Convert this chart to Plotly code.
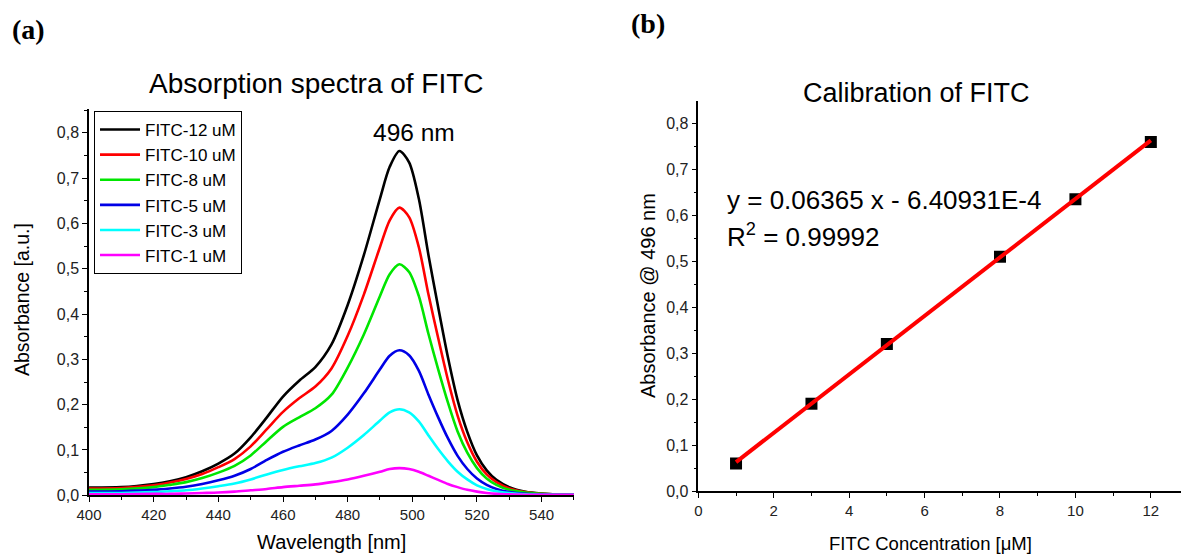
import plotly.graph_objects as go

# Absorption spectra (wavelength in nm, absorbance in a.u.)
wavelength = [400, 410, 420, 425, 430, 435, 440, 445, 450, 455, 460, 465, 470, 475,
              480, 485, 490, 493, 496, 499, 502, 505, 508, 511, 514, 517, 520, 523,
              526, 530, 535, 540, 545, 550]

abs_12uM = [0.017, 0.018, 0.025, 0.031, 0.040, 0.053, 0.070, 0.092, 0.128, 0.172, 0.218,
            0.253, 0.283, 0.333, 0.420, 0.530, 0.655, 0.725, 0.760, 0.735, 0.655, 0.530,
            0.415, 0.305, 0.210, 0.140, 0.088, 0.055, 0.034, 0.018, 0.008, 0.004, 0.002, 0.001]
abs_10uM = [0.015, 0.016, 0.022, 0.028, 0.036, 0.047, 0.062, 0.080, 0.108, 0.146, 0.184,
            0.214, 0.240, 0.280, 0.352, 0.443, 0.548, 0.607, 0.635, 0.614, 0.548, 0.443,
            0.347, 0.255, 0.176, 0.117, 0.074, 0.046, 0.029, 0.015, 0.007, 0.003, 0.002, 0.001]
abs_8uM = [0.012, 0.013, 0.018, 0.023, 0.029, 0.038, 0.050, 0.065, 0.088, 0.120, 0.151,
           0.172, 0.192, 0.222, 0.282, 0.355, 0.440, 0.488, 0.510, 0.493, 0.440, 0.356,
           0.278, 0.205, 0.141, 0.094, 0.060, 0.037, 0.023, 0.012, 0.006, 0.003, 0.001, 0.001]
abs_5uM = [0.008, 0.009, 0.012, 0.015, 0.019, 0.025, 0.033, 0.043, 0.058, 0.078, 0.096,
           0.110, 0.123, 0.142, 0.178, 0.225, 0.278, 0.308, 0.320, 0.309, 0.275, 0.222,
           0.172, 0.126, 0.087, 0.058, 0.037, 0.023, 0.014, 0.007, 0.003, 0.002, 0.001, 0.001]
abs_3uM = [0.005, 0.005, 0.007, 0.009, 0.011, 0.015, 0.020, 0.026, 0.035, 0.046, 0.056,
           0.064, 0.071, 0.083, 0.105, 0.133, 0.165, 0.183, 0.190, 0.183, 0.163, 0.132,
           0.102, 0.075, 0.052, 0.035, 0.022, 0.014, 0.009, 0.005, 0.002, 0.001, 0.001, 0.001]
abs_1uM = [0.002, 0.002, 0.003, 0.003, 0.004, 0.005, 0.006, 0.008, 0.011, 0.014, 0.018,
           0.021, 0.024, 0.029, 0.035, 0.043, 0.052, 0.058, 0.060, 0.058, 0.052, 0.043,
           0.034, 0.025, 0.018, 0.012, 0.008, 0.005, 0.003, 0.002, 0.001, 0.001, 0.001, 0.001]

series_names = ["FITC-12 uM", "FITC-10 uM", "FITC-8 uM", "FITC-5 uM", "FITC-3 uM", "FITC-1 uM"]
series_values = [abs_12uM, abs_10uM, abs_8uM, abs_5uM, abs_3uM, abs_1uM]
series_colors = ["#000000", "#ff0000", "#00e600", "#0000e6", "#00ffff", "#ff00ff"]

# Calibration at 496 nm
concentration = [1, 3, 5, 8, 10, 12]
abs_496 = [0.060, 0.190, 0.320, 0.510, 0.635, 0.760]
fit_slope = 0.06365
fit_intercept = -6.40931e-4
fit_r2 = 0.99992
fit_x = [1, 12]
fit_y = [fit_slope * x + fit_intercept for x in fit_x]

FONT = "Liberation Sans, Arial, sans-serif"
SERIF = "Liberation Serif, Times New Roman, serif"

fig = go.Figure()

for name, vals, col in zip(series_names, series_values, series_colors):
    fig.add_trace(go.Scatter(x=wavelength, y=vals, mode="lines", name=name,
                             line=dict(color=col, width=2.6, shape="spline", smoothing=0.8),
                             xaxis="x", yaxis="y"))

fig.add_trace(go.Scatter(x=concentration, y=abs_496, mode="markers", showlegend=False,
                         marker=dict(symbol="square", size=12, color="black"),
                         xaxis="x2", yaxis="y2"))
fig.add_trace(go.Scatter(x=fit_x, y=fit_y, mode="lines", showlegend=False,
                         line=dict(color="#ff0000", width=4),
                         xaxis="x2", yaxis="y2"))


def axis_style(size):
    return dict(showline=True, linecolor="black", linewidth=1.5, showgrid=False,
                zeroline=False, ticks="outside", ticklen=5, tickwidth=1.3,
                tickcolor="black", mirror=False, automargin=False,
                tickfont=dict(family=FONT, size=size, color="#222222"))


fig.update_layout(
    width=1181, height=554,
    margin=dict(l=0, r=0, t=0, b=0),
    paper_bgcolor="white", plot_bgcolor="white",
    separators=",.",
    font=dict(family=FONT, color="black"),
    xaxis=dict(domain=[0.0754, 0.486], range=[400, 550],
               tickvals=[400, 420, 440, 460, 480, 500, 520, 540],
               minor=dict(dtick=10, tick0=400, ticks="outside", ticklen=3, tickcolor="black"),
               anchor="y", **axis_style(15)),
    yaxis=dict(domain=[0.106, 0.8027], range=[0, 0.852], dtick=0.1, tick0=0, tickformat=".1f",
               minor=dict(dtick=0.05, tick0=0, ticks="outside", ticklen=3, tickcolor="black"),
               anchor="x", **axis_style(16)),
    xaxis2=dict(domain=[0.5913, 1.0], range=[0, 12.8], dtick=2, tick0=0,
                minor=dict(dtick=1, tick0=0, ticks="outside", ticklen=3, tickcolor="black"),
                anchor="y2", **axis_style(15)),
    yaxis2=dict(domain=[0.1137, 0.8177], range=[0, 0.849], dtick=0.1, tick0=0, tickformat=".1f",
                minor=dict(dtick=0.05, tick0=0, ticks="outside", ticklen=3, tickcolor="black"),
                anchor="x2", **axis_style(16)),
    legend=dict(x=0.0796, y=0.7996, xanchor="left", yanchor="top",
                bordercolor="black", borderwidth=1, bgcolor="white",
                font=dict(family=FONT, size=17, color="black"),
                tracegroupgap=0, itemwidth=40),
)


def label(text, x, y, size, angle=0, family=FONT, xanchor="center"):
    fig.add_annotation(text=text, x=x / 1181, y=1 - y / 554, xref="paper", yref="paper",
                       showarrow=False, textangle=angle, xanchor=xanchor, yanchor="middle",
                       font=dict(family=family, size=size, color="black"))


label("<b>(a)</b>", 28, 30, 28, family=SERIF)
label("<b>(b)</b>", 648, 23, 28, family=SERIF)
label("Absorption spectra of FITC", 316, 83, 28)
label("Calibration of FITC", 916, 93, 27)
label("496 nm", 414, 133, 24.5)
label("Absorbance [a.u.]", 22, 300, 19.5, angle=-90)
label("Wavelength [nm]", 331, 542, 20)
label("Absorbance @ 496 nm", 648, 296, 20, angle=-90)
label("FITC Concentration [μM]", 930, 543, 18.5)
label(f"y = {fit_slope} x - 6.40931E-4", 725, 200, 26, xanchor="left")
label(f"R<sup>2</sup> = {fit_r2}", 725, 235, 26, xanchor="left")

fig.write_html("out.html")
